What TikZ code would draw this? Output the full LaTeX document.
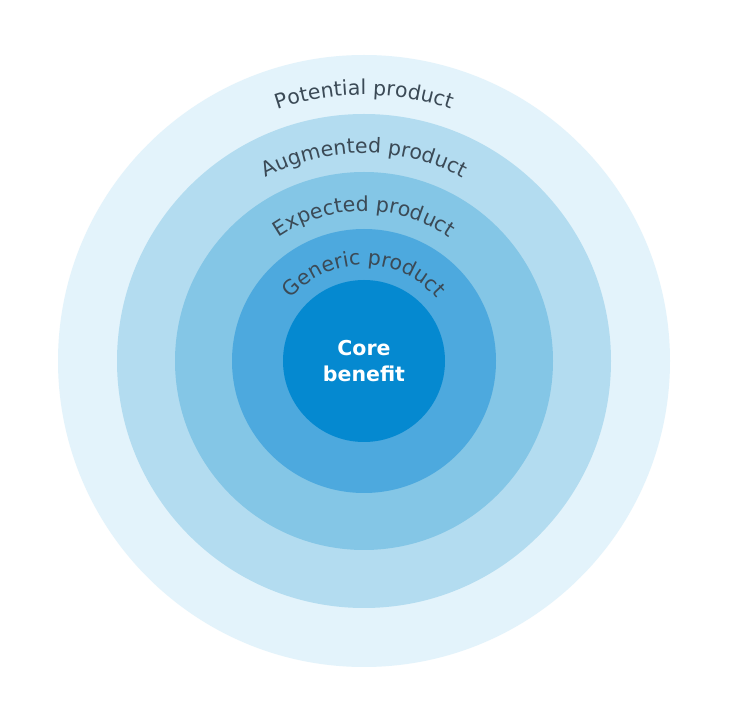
\documentclass[tikz,border=0pt]{standalone}
\usepackage{fontspec}
\setmainfont{DejaVu Sans}
\usetikzlibrary{decorations.text}
\definecolor{ringA}{HTML}{E3F3FB}
\definecolor{ringB}{HTML}{B3DCF0}
\definecolor{ringC}{HTML}{84C6E6}
\definecolor{ringD}{HTML}{4DA9DE}
\definecolor{coreC}{HTML}{0589D0}
\definecolor{labelC}{HTML}{3B4A56}
\tikzset{
  ring/.style={circle, inner sep=0pt, minimum size=#1, draw=none},
  arclabel/.style={decorate, decoration={text along path, text align=center,
     text={|\fontsize{20.5}{20.5}\selectfont\color{labelC}|#1}}}
}
\begin{document}
\begin{tikzpicture}[x=1pt,y=1pt]
\useasboundingbox (0,0) rectangle (732,724);
\fill[white] (0,0) rectangle (732,724);
\coordinate (c) at (364,363);
\node[ring=612pt, fill=ringA] (potential) at (c) {};
\node[ring=494pt, fill=ringB] (augmented) at (c) {};
\node[ring=378pt, fill=ringC] (expected) at (c) {};
\node[ring=264pt, fill=ringD] (generic) at (c) {};
\node[ring=162pt, fill=coreC, text=white, font=\bfseries\fontsize{20.5}{26}\selectfont, align=center] (core) at (c) {Core\\benefit};
\path[arclabel={Potential product}] (c) ++(150:266) arc[start angle=150, end angle=30, radius=266];
\path[arclabel={Augmented product}] (c) ++(150:208) arc[start angle=150, end angle=30, radius=208];
\path[arclabel={Expected product}] (c) ++(160:150) arc[start angle=160, end angle=20, radius=150];
\path[arclabel={Generic product}] (c) ++(175:96) arc[start angle=175, end angle=5, radius=96];
\end{tikzpicture}
\end{document}
